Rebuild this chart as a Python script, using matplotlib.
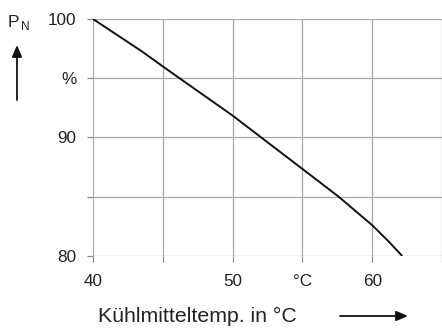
import matplotlib
matplotlib.use("Agg")
import matplotlib.pyplot as plt

plt.rcParams['font.family'] = ['Liberation Sans', 'DejaVu Sans']

# Data
temp = [40, 43.4, 45, 46.2, 50, 55, 57.6, 60, 61.2, 62.15]
power = [100, 97.35, 96.0, 95.0, 91.85, 87.35, 85.0, 82.6, 81.2, 80.0]

x_ticks = [40, 45, 50, 55, 60, 65]
x_ticklabels = ['40', '', '50', '°C', '60', '']
y_ticks = [80, 85, 90, 95, 100]
y_ticklabels = ['80', '', '90', '%', '100']

W, H = 442, 329
fig = plt.figure(figsize=(W / 100, H / 100), dpi=100)
ax = fig.add_axes([93 / W, 1 - 256 / H, (442 - 93) / W, (256 - 19) / H])

ax.plot(temp, power, color='#111111', lw=1.4, zorder=3, solid_capstyle='butt')
ax.set_xlim(40, 65)
ax.set_ylim(80, 100)
ax.set_xticks(x_ticks)
ax.set_xticklabels(x_ticklabels)
ax.set_yticks(y_ticks)
ax.set_yticklabels(y_ticklabels)
for lbl in ax.get_xticklabels():
    if lbl.get_text() == '°C':
        lbl.set_fontsize(16)
ax.grid(True, color='#a8a8a8', lw=0.9)
for s in ax.spines.values():
    s.set_visible(False)
ax.tick_params(axis='both', colors='#888888', labelcolor='#222222', labelsize=12.3,
               length=4, width=0.9)
ax.tick_params(axis='y', pad=8)
ax.tick_params(axis='x', pad=9)

# Y label P_N with arrow
fig.text(8 / W, 1 - 27 / H, 'P', fontsize=12.5, color='#222222', ha='left', va='baseline')
fig.text(21.5 / W, 1 - 30 / H, 'N', fontsize=8.5, color='#222222', ha='left', va='baseline')
ax.annotate('', xy=(17 / W, 1 - 45 / H), xytext=(17 / W, 1 - 100 / H),
            xycoords='figure fraction', textcoords='figure fraction',
            arrowprops=dict(arrowstyle='-|>,head_length=0.7,head_width=0.3', color='#111111',
                            lw=1.3, shrinkA=0, shrinkB=0))

# X label with arrow
fig.text(197 / W, 1 - 316 / H, 'Kühlmitteltemp. in °C', fontsize=15.3, color='#222222',
         ha='center', va='center')
ax.annotate('', xy=(408 / W, 1 - 316 / H), xytext=(340 / W, 1 - 316 / H),
            xycoords='figure fraction', textcoords='figure fraction',
            arrowprops=dict(arrowstyle='-|>,head_length=0.7,head_width=0.3', color='#111111',
                            lw=1.3, shrinkA=0, shrinkB=0))

fig.savefig('out.png', dpi=100)
